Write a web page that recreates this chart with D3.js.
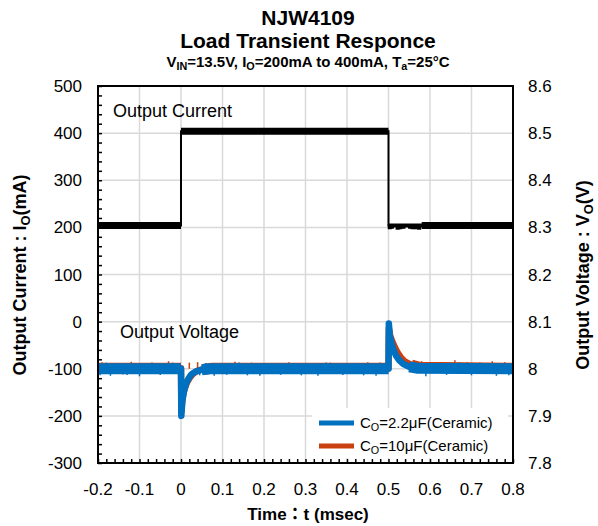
<!DOCTYPE html>
<html><head><meta charset="utf-8">
<script src="https://cdn.jsdelivr.net/npm/d3@7"></script>
<style>body{margin:0;background:#fff}svg{display:block}text{font-family:"Liberation Sans",Arial,sans-serif}</style>
</head><body>
<svg id="c" width="598" height="526"></svg>
<script>
// ---- data ----
const xTicks = [-0.2,-0.1,0,0.1,0.2,0.3,0.4,0.5,0.6,0.7,0.8];
const leftTicks = [-300,-200,-100,0,100,200,300,400,500];
const rightTicks = [7.8,7.9,8.0,8.1,8.2,8.3,8.4,8.5,8.6];
// Output current step (mA)
const currentT = [-0.2, 0, 0, 0.5, 0.5, 0.8];
const currentI = [204, 204, 404, 404, 204, 204];
// noisy region of current just after 0.5 ms (dips)
const curDipT = [0.503,0.508,0.522,0.528,0.536,0.552,0.558,0.566,0.574];
const curDipI = [196,197,195,196,197,197,196,196,195];
// Output voltage (V) – C=2.2uF
const vBlueT = [-0.2,0,0.0008,0.003,0.007,0.012,0.018,0.025,0.035,0.05,0.07,0.5,0.5008,0.503,0.507,0.512,0.518,0.526,0.536,0.55,0.57,0.8];
const vBlueV = [8.0,8.0,7.9,7.93,7.952,7.968,7.979,7.988,7.994,7.998,8.0,8.0,8.096,8.072,8.055,8.04,8.028,8.018,8.01,8.004,8.001,8.0];
// Output voltage (V) – C=10uF
const vRedT = [-0.2,0,0.001,0.004,0.009,0.015,0.022,0.03,0.04,0.055,0.075,0.5,0.501,0.504,0.509,0.515,0.522,0.53,0.54,0.555,0.575,0.8];
const vRedV = [8.001,8.001,7.91,7.94,7.958,7.972,7.982,7.99,7.996,7.999,8.001,8.001,8.085,8.07,8.058,8.046,8.034,8.024,8.015,8.008,8.003,8.001];
// noise spikes
const spikeRedT = [-0.19,-0.16,-0.14,-0.12,-0.07,-0.03,0.02,0.04,0.09,0.13,0.17,0.22,0.26,0.31,0.36,0.41,0.45,0.48,0.58,0.6,0.62,0.66,0.69,0.72,0.75,0.78,0.795];
const spikeRedV = [8.014,8.012,7.988,8.015,8.013,8.016,8.013,8.014,8.012,8.015,8.013,8.012,8.014,8.012,8.013,8.012,8.014,8.013,8.016,8.014,8.013,8.018,8.014,8.013,8.016,8.014,8.012];
const spikeBlueT = [-0.195,-0.18,-0.17,-0.15,-0.13,-0.1,-0.08,-0.05,-0.02,0.045,0.06,0.08,0.11,0.14,0.16,0.19,0.21,0.24,0.27,0.29,0.33,0.35,0.39,0.42,0.44,0.47,0.59,0.61,0.64,0.67,0.7,0.73,0.76,0.79];
const spikeBlueV = [7.986,8.013,7.985,8.012,7.987,7.984,8.012,7.987,8.013,7.986,8.012,7.985,7.987,8.013,7.986,7.985,8.012,7.987,8.012,7.986,7.985,8.013,7.987,8.012,7.986,7.985,7.984,8.012,7.987,8.013,7.986,8.012,7.985,7.986];
// index ranges of the flat (noise-band) parts of each voltage trace
const flatBlue = [[0,1],[9,11],[19,21]];
const flatRed = [[0,1],[9,11],[19,21]];

// ---- layout ----
const svg = d3.select("#c");
const L=98, R=513, T=86, B=463;
const x = d3.scaleLinear().domain([-0.2,0.8]).range([L,R]);
const yL = d3.scaleLinear().domain([-300,500]).range([B,T]);
const yR = d3.scaleLinear().domain([7.8,8.6]).range([B,T]);
const grid="#d9d9d9", blue="#0070c0", red="#c9410f";

// gridlines
const g = svg.append("g");
g.selectAll(".hg").data(leftTicks).enter().append("line")
 .attr("x1",L).attr("x2",R).attr("y1",d=>yL(d)).attr("y2",d=>yL(d))
 .attr("stroke",grid).attr("stroke-width",1.5);
g.selectAll(".vg").data(xTicks).enter().append("line")
 .attr("x1",d=>x(d)).attr("x2",d=>x(d)).attr("y1",T).attr("y2",B)
 .attr("stroke",grid).attr("stroke-width",1.5);

// minor ticks (inward)
const minorY = d3.range(-300,501,20);
const minorX = d3.range(-0.2,0.8001,0.02);
svg.append("g").attr("transform",`translate(${L},0)`)
 .call(d3.axisLeft(yL).tickValues(minorY).tickSize(-4).tickFormat(""))
 .call(s=>s.select(".domain").remove()).selectAll("line").attr("stroke","#000").attr("stroke-width",1.5);
svg.append("g").attr("transform",`translate(0,${B})`)
 .call(d3.axisBottom(x).tickValues(minorX).tickSize(-4).tickFormat(""))
 .call(s=>s.select(".domain").remove()).selectAll("line").attr("stroke","#000").attr("stroke-width",1.5);

// legend background
const lg = svg.append("g");
lg.append("rect").attr("x",312).attr("y",408).attr("width",196).attr("height",50).attr("fill","#fff");

// voltage traces
const line = (xs,ys,sc)=>d3.line()(xs.map((t,i)=>[x(t),sc(ys[i])]));
function drawTrace(ts,vs,flats,col,spT,spV){
  svg.append("path").attr("d",line(ts,vs,yR)).attr("fill","none").attr("stroke",col)
   .attr("stroke-width",6.5).attr("stroke-linejoin","round");
  flats.forEach(([a,b])=>svg.append("path").attr("d",line(ts.slice(a,b+1),vs.slice(a,b+1),yR))
   .attr("fill","none").attr("stroke",col).attr("stroke-width",11));
  svg.append("g").selectAll("line").data(spT).enter().append("line")
   .attr("x1",d=>x(d)).attr("x2",d=>x(d)).attr("y1",yR(8.0)).attr("y2",(d,i)=>yR(spV[i]))
   .attr("stroke",col).attr("stroke-width",1.5);
}
drawTrace(vRedT,vRedV,flatRed,red,spikeRedT,spikeRedV);
drawTrace(vBlueT,vBlueV,flatBlue,blue,spikeBlueT,spikeBlueV);

// current trace
svg.append("path").attr("d",line(currentT,currentI,yL)).attr("fill","none").attr("stroke","#000").attr("stroke-width",2);
[[0,1],[2,3]].forEach(([a,b])=>svg.append("line").attr("x1",x(currentT[a])).attr("x2",x(currentT[b]))
 .attr("y1",yL(currentI[a])).attr("y2",yL(currentI[b])).attr("stroke","#000").attr("stroke-width",7));
svg.append("line").attr("x1",x(0.5)).attr("x2",x(0.6)).attr("y1",yL(204)).attr("y2",yL(204)).attr("stroke","#000").attr("stroke-width",4);
svg.append("line").attr("x1",x(0.58)).attr("x2",x(0.8)).attr("y1",yL(204)).attr("y2",yL(204)).attr("stroke","#000").attr("stroke-width",7);
svg.selectAll(".cd").data(curDipT).enter().append("rect")
 .attr("x",d=>x(d)-2).attr("width",4).attr("y",yL(207)).attr("height",(d,i)=>yL(curDipI[i])-yL(207)).attr("fill","#000");

// plot border
svg.append("rect").attr("x",L).attr("y",T).attr("width",R-L).attr("height",B-T)
 .attr("fill","none").attr("stroke","#000").attr("stroke-width",2);

// tick labels
svg.selectAll(".lt").data(leftTicks).enter().append("text")
 .attr("x",82).attr("y",d=>yL(d)+6).attr("text-anchor","end").attr("font-size",17).text(d=>d);
svg.selectAll(".rt").data(rightTicks).enter().append("text")
 .attr("x",528).attr("y",d=>yR(d)+6).attr("font-size",17).text(d=>+d.toFixed(1));
svg.selectAll(".xt").data(xTicks).enter().append("text")
 .attr("x",d=>x(d)).attr("y",495).attr("text-anchor","middle").attr("font-size",17).text(d=>+d.toFixed(1));

// titles
svg.append("text").attr("x",308).attr("y",25).attr("text-anchor","middle").attr("font-weight","bold").attr("font-size",21).text("NJW4109");
svg.append("text").attr("x",308).attr("y",48).attr("text-anchor","middle").attr("font-weight","bold").attr("font-size",21).text("Load Transient Responce");
const st = svg.append("text").attr("x",308).attr("y",67).attr("text-anchor","middle").attr("font-weight","bold").attr("font-size",15);
st.append("tspan").text("V");st.append("tspan").attr("font-size","0.72em").attr("dy",3).text("IN");
st.append("tspan").attr("dy",-3).text("=13.5V, I");
st.append("tspan").attr("font-size","0.72em").attr("dy",3).text("O");
st.append("tspan").attr("dy",-3).text("=200mA to 400mA, T");
st.append("tspan").attr("font-size","0.72em").attr("dy",3).text("a");
st.append("tspan").attr("dy",-3).text("=25°C");

// axis titles
const lt = svg.append("text").attr("transform","translate(26,275) rotate(-90)").attr("text-anchor","middle").attr("font-weight","bold").attr("font-size",18);
lt.append("tspan").text("Output Current : I");lt.append("tspan").attr("font-size","0.72em").attr("dy",4).text("O");lt.append("tspan").attr("dy",-4).text("(mA)");
const rt = svg.append("text").attr("transform","translate(589,275) rotate(-90)").attr("text-anchor","middle").attr("font-weight","bold").attr("font-size",18);
rt.append("tspan").text("Output Voltage : V");rt.append("tspan").attr("font-size","0.72em").attr("dy",4).text("O");rt.append("tspan").attr("dy",-4).text("(V)");
const bt = svg.append("text").attr("x",308).attr("y",520).attr("text-anchor","middle").attr("font-weight","bold").attr("font-size",17);
bt.append("tspan").text("Time");bt.append("tspan").attr("font-family","Noto Sans CJK JP").text("：");bt.append("tspan").text("t (msec)");

// series labels
svg.append("text").attr("x",113).attr("y",117).attr("font-size",18).text("Output Current");
svg.append("text").attr("x",120).attr("y",338).attr("font-size",18).text("Output Voltage");

// legend
const legItems=[["2.2μF(Ceramic)",blue,423],["10μF(Ceramic)",red,446]];
legItems.forEach(([t,c,yy])=>{
 lg.append("line").attr("x1",319).attr("x2",354).attr("y1",yy).attr("y2",yy).attr("stroke",c).attr("stroke-width",5);
 const tx=lg.append("text").attr("x",360).attr("y",yy+5).attr("font-size",15);
 tx.append("tspan").text("C");tx.append("tspan").attr("font-size","0.72em").attr("dy",3).text("O");tx.append("tspan").attr("dy",-3).text("="+t);
});
</script>
</body></html>
